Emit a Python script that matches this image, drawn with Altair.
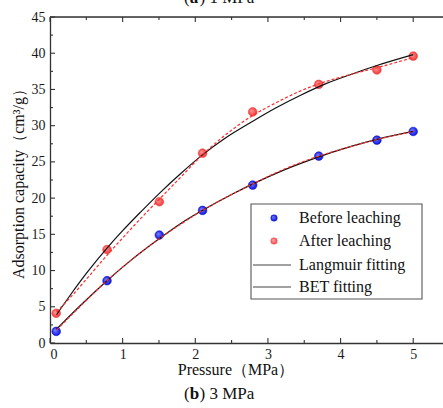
import altair as alt
import pandas as pd

# measured points
pressure = [0.085, 0.785, 1.505, 2.10, 2.79, 3.70, 4.50, 5.00]
before = [1.6, 8.6, 14.9, 18.3, 21.8, 25.8, 28.0, 29.2]
after = [4.1, 12.9, 19.5, 26.2, 31.9, 35.7, 37.7, 39.6]

# fitted curves
lang_after_x = [0.09, 0.3, 0.5, 0.785, 1.0, 1.25, 1.52, 1.8, 2.09, 2.4, 2.79, 3.1, 3.45, 3.8, 4.15, 4.5, 5.0]
lang_after_y = [3.9, 6.9, 9.6, 13.1, 15.5, 18.1, 20.8, 23.4, 25.9, 28.2, 30.6, 32.4, 34.2, 35.8, 37.1, 38.3, 39.8]
bet_after_x = [0.09, 0.3, 0.5, 0.785, 1.0, 1.25, 1.52, 1.8, 2.09, 2.4, 2.79, 3.1, 3.45, 3.8, 4.15, 4.5, 5.0]
bet_after_y = [4.3, 6.5, 8.8, 12.1, 14.5, 17.2, 20.0, 22.9, 25.9, 28.6, 31.4, 33.1, 34.8, 36.1, 37.1, 38.0, 39.4]
lang_before_x = [0.09, 0.4, 0.785, 1.1, 1.45, 1.8, 2.115, 2.5, 2.8, 3.2, 3.7, 4.1, 4.5, 5.0]
lang_before_y = [1.9, 5.0, 8.6, 11.3, 14.0, 16.5, 18.4, 20.5, 22.0, 23.8, 25.7, 27.0, 28.1, 29.2]
bet_before_x = [0.09, 0.4, 0.785, 1.1, 1.45, 1.8, 2.115, 2.5, 2.8, 3.2, 3.7, 4.1, 4.5, 5.0]
bet_before_y = [1.8, 4.9, 8.6, 11.3, 14.0, 16.4, 18.4, 20.5, 22.0, 23.9, 25.8, 27.0, 28.1, 29.2]

x_ticks_major = [0, 1, 2, 3, 4, 5]
x_ticks_minor = [0.5, 1.5, 2.5, 3.5, 4.5]
y_ticks_major = [0, 5, 10, 15, 20, 25, 30, 35, 40, 45]
y_ticks_minor = [2.5, 7.5, 12.5, 17.5, 22.5, 27.5, 32.5, 37.5, 42.5]

legend_labels = ["Before leaching", "After leaching", "Langmuir fitting", "BET fitting"]
x_title = "Pressure（MPa）"
y_title = "Adsorption capacity（cm³/g）"

FONT = "Liberation Serif"
W, H = 393, 326
AX = "#333333"

xs = alt.Scale(domain=[0, 5.41], nice=False)
ys = alt.Scale(domain=[0, 45], nice=False)

x_axis = alt.Axis(
    values=x_ticks_major, format="d", ticks=False, grid=False, domainColor=AX, domainWidth=1.3,
    labelFont=FONT, labelFontSize=14, labelColor="#1a1a1a", labelPadding=4, title=None)

y_axis = alt.Axis(
    values=y_ticks_major, format="d", ticks=False, grid=False, domainColor=AX, domainWidth=1.3,
    labelFont=FONT, labelFontSize=14, labelColor="#1a1a1a", labelPadding=5, title=None)


def X(field="p:Q"):
    return alt.X(field, scale=xs, axis=x_axis)


def Y(field="q:Q"):
    return alt.Y(field, scale=ys, axis=y_axis)


pts = pd.DataFrame({"p": pressure, "before": before, "after": after})


def curve(xv, yv):
    return pd.DataFrame({"p": xv, "q": yv})


def grad(light, dark):
    return alt.RadialGradient(
        gradient="radial",
        stops=[alt.GradientStop(offset=0, color=light), alt.GradientStop(offset=1, color=dark)],
        x1=0.35, y1=0.35, r1=0.0, x2=0.5, y2=0.5, r2=0.55,
    )


before_pts = alt.Chart(pts).mark_point(
    filled=True, size=75, opacity=1, fill=grad("#7f86ff", "#0008e0"), stroke="#1a1ad0", strokeWidth=0.6
).encode(x=X(), y=Y("before:Q"))

after_pts = alt.Chart(pts).mark_point(
    filled=True, size=75, opacity=1, fill=grad("#ff9a9a", "#f03030"), stroke="#f04040", strokeWidth=0.6
).encode(x=X(), y=Y("after:Q"))


def line(df, color, dash=None, width=1.2):
    kw = dict(color=color, strokeWidth=width, interpolate="monotone")
    if dash:
        kw["strokeDash"] = dash
    return alt.Chart(df).mark_line(**kw).encode(x=X(), y=Y())


lines = [
    line(curve(lang_before_x, lang_before_y), "#111111"),
    line(curve(bet_before_x, bet_before_y), "#ff2a2a", [3, 2]),
    line(curve(lang_after_x, lang_after_y), "#111111"),
    line(curve(bet_after_x, bet_after_y), "#ff2a2a", [3, 2]),
]

one = pd.DataFrame({"a": [0]})

# frame top line and inward ticks
top_line = alt.Chart(one).mark_rule(color=AX, strokeWidth=1.3).encode(
    x=alt.value(0), x2=alt.value(W), y=alt.value(0))


def xticks(vals, ln):
    df = pd.DataFrame({"p": vals})
    b = alt.Chart(df).mark_rule(color=AX, strokeWidth=1.1).encode(
        x=X(), y=alt.value(H), y2=alt.value(H - ln))
    t = alt.Chart(df).mark_rule(color=AX, strokeWidth=1.1).encode(
        x=X(), y=alt.value(0), y2=alt.value(ln))
    return [b, t]


def yticks(vals, ln):
    df = pd.DataFrame({"q": vals})
    return [alt.Chart(df).mark_rule(color=AX, strokeWidth=1.1).encode(
        y=Y(), x=alt.value(0), x2=alt.value(ln))]


tick_layers = xticks(x_ticks_major, 5) + xticks(x_ticks_minor, 3) + yticks(y_ticks_major, 5) + yticks(y_ticks_minor, 3)

# axis titles as text
xt = alt.Chart(pd.DataFrame({"t": [x_title]})).mark_text(
    font=FONT, fontSize=16, align="center", baseline="middle", color="#111").encode(
    text="t:N", x=alt.value(186), y=alt.value(353))
yt = alt.Chart(pd.DataFrame({"t": [y_title]})).mark_text(
    font=FONT, fontSize=16, align="center", baseline="middle", angle=270, color="#111").encode(
    text="t:N", x=alt.value(-31), y=alt.value(163))

# legend
leg_box = alt.Chart(one).mark_rect(fill="white", stroke="#555555", strokeWidth=1.1).encode(
    x=alt.value(201), x2=alt.value(372), y=alt.value(187), y2=alt.value(282))
leg_y = [201, 224, 248, 270]
leg_text = [
    alt.Chart(pd.DataFrame({"t": [legend_labels[i]]})).mark_text(
        font=FONT, fontSize=16, align="left", baseline="middle", color="#111").encode(
        text="t:N", x=alt.value(249), y=alt.value(leg_y[i]))
    for i in range(4)
]
leg_sym = [
    alt.Chart(one).mark_point(filled=True, size=42, opacity=1, fill=grad("#7f86ff", "#0008e0"),
                              stroke="#1a1ad0", strokeWidth=0.5).encode(x=alt.value(224), y=alt.value(leg_y[0])),
    alt.Chart(one).mark_point(filled=True, size=42, opacity=1, fill=grad("#ffb0b0", "#f04040"),
                              stroke="#f05050", strokeWidth=0.5).encode(x=alt.value(224), y=alt.value(leg_y[1])),
    alt.Chart(one).mark_rule(color="#444", strokeWidth=1.1).encode(
        x=alt.value(203), x2=alt.value(241), y=alt.value(leg_y[2])),
    alt.Chart(one).mark_rule(color="#444", strokeWidth=1.1).encode(
        x=alt.value(203), x2=alt.value(241), y=alt.value(leg_y[3])),
]


# captions
def caption(letter, rest, base_y):
    return [
        alt.Chart(pd.DataFrame({"t": ["("]})).mark_text(font=FONT, fontSize=17, align="left",
            baseline="alphabetic", color="#111").encode(text="t:N", x=alt.value(134), y=alt.value(base_y)),
        alt.Chart(pd.DataFrame({"t": [letter]})).mark_text(font=FONT, fontSize=17, fontWeight="bold",
            align="left", baseline="alphabetic", color="#111").encode(text="t:N", x=alt.value(139.7), y=alt.value(base_y)),
        alt.Chart(pd.DataFrame({"t": [rest]})).mark_text(font=FONT, fontSize=17, align="left",
            baseline="alphabetic", color="#111").encode(text="t:N", x=alt.value(149.5), y=alt.value(base_y)),
    ]


caps = caption("b", ") 3 MPa", 382) + caption("a", ") 1 MPa", -14)

chart = alt.layer(
    before_pts, after_pts, *lines, top_line, *tick_layers,
    leg_box, *leg_text, *leg_sym, xt, yt, *caps
).properties(
    width=W, height=H,
    autosize=alt.AutoSizeParams(type="none"),
    padding={"left": 50, "top": 17, "right": 0, "bottom": 65},
).configure_view(stroke=None).configure(
    background="white", font=FONT
).configure_axis(labelFont=FONT, titleFont=FONT)

chart.save("out.html", embed_options={"renderer": "svg", "actions": False})
